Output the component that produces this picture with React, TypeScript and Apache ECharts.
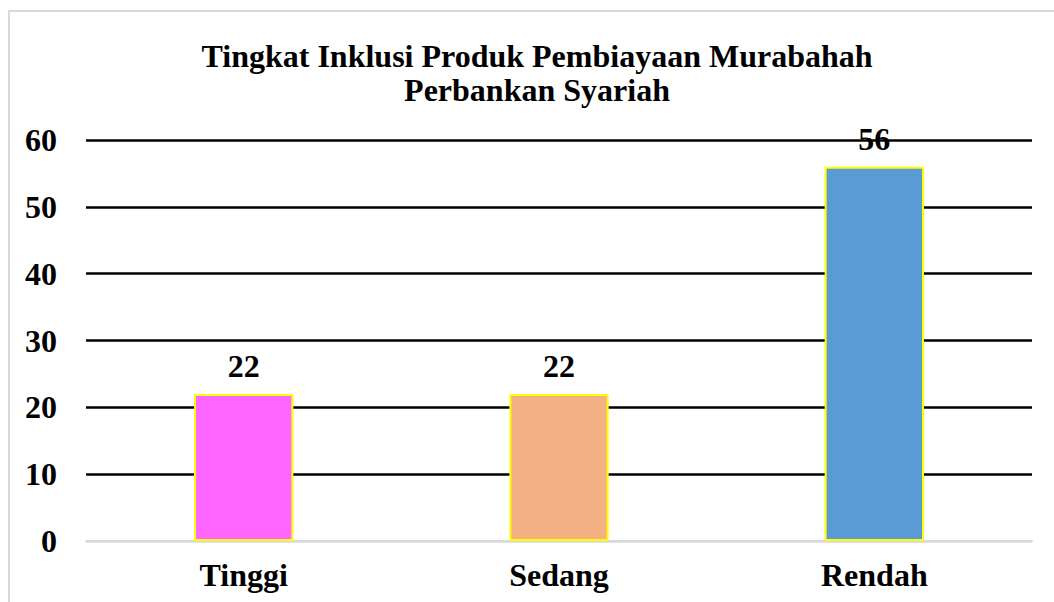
import React, { useEffect, useRef } from "react";
import * as echarts from "echarts";

const categories = ["Tinggi", "Sedang", "Rendah"];
const values = [22, 22, 56];
const barColors = ["#FF66FF", "#F4B183", "#5B9BD5"];
const yTicks = [0, 10, 20, 30, 40, 50, 60];
const titleText = "Tingkat Inklusi Produk Pembiayaan Murabahah\nPerbankan Syariah";

const FONT = "'Liberation Serif', 'Times New Roman', serif";
const FS = 32;

export default function App() {
  const ref = useRef<HTMLDivElement>(null);
  useEffect(() => {
    if (!ref.current) return;
    const chart = echarts.init(ref.current, null, { renderer: "svg" });
    chart.setOption({
      animation: false,
      backgroundColor: "#ffffff",
      graphic: [
        {
          type: "rect",
          shape: { x: 9, y: 11, width: 1080, height: 640 },
          style: { fill: "none", stroke: "#d9d9d9", lineWidth: 2 },
          silent: true,
        },
      ],
      title: {
        text: titleText,
        left: 532,
        top: 34,
        textAlign: "center",
        textStyle: {
          fontFamily: FONT,
          fontWeight: "bold",
          fontSize: FS,
          lineHeight: 34,
          color: "#000",
        },
      },
      grid: { left: 86, right: 22, top: 140, bottom: 61 },
      xAxis: {
        type: "category",
        data: categories,
        axisLine: { show: true, lineStyle: { color: "#d9d9d9", width: 2 } },
        axisTick: { show: false },
        axisLabel: {
          fontFamily: FONT,
          fontWeight: "bold",
          fontSize: FS,
          color: "#000",
          margin: 18,
        },
      },
      yAxis: {
        type: "value",
        min: yTicks[0],
        max: yTicks[yTicks.length - 1],
        interval: 10,
        axisLine: { show: false },
        axisTick: { show: false },
        axisLabel: {
          fontFamily: FONT,
          fontWeight: "bold",
          fontSize: FS,
          color: "#000",
          margin: 29,
        },
        splitLine: {
          show: true,
          lineStyle: {
            color: ["#d9d9d9", "#000", "#000", "#000", "#000", "#000", "#000"],
            width: 2.5,
          },
        },
      },
      series: [
        {
          type: "bar",
          barWidth: "31.5%",
          data: values.map((v, i) => ({
            value: v,
            itemStyle: { color: barColors[i], borderColor: "#FFFF00", borderWidth: 2 },
          })),
          label: {
            show: true,
            position: "top",
            distance: 12,
            fontFamily: FONT,
            fontWeight: "bold",
            fontSize: FS,
            color: "#000",
          },
        },
      ],
    });
    return () => chart.dispose();
  }, []);
  return (
    <div
      ref={ref}
      style={{ position: "absolute", left: 0, top: 0, width: 1054, height: 602 }}
    />
  );
}
